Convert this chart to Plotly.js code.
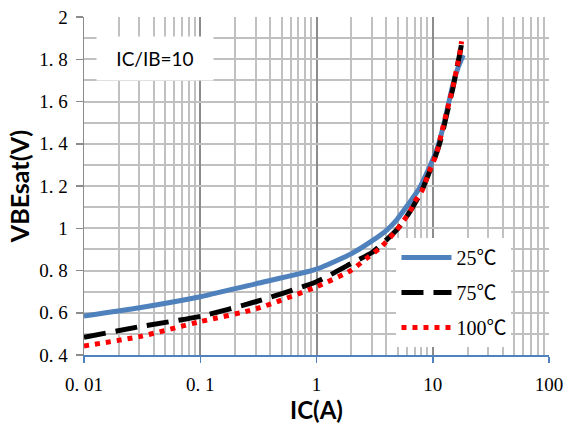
<!DOCTYPE html>
<html>
<head>
<meta charset="utf-8">
<script src="https://cdn.plot.ly/plotly-3.0.1.min.js"></script>
<style>html,body{margin:0;padding:0;background:#fff;}#chart{width:570px;height:427px;}</style>
</head>
<body>
<div id="chart"></div>
<script>
// ---- data ----
const seriesNames = ["25\u2103", "75\u2103", "100\u2103"];
const ic25  = [0.01, 0.03, 0.1, 0.3, 1, 2, 3, 4, 4.9, 6, 7.7, 10.8, 12.3, 15, 16.5, 18.3];
const vbe25 = [0.585, 0.624, 0.676, 0.737, 0.806, 0.88, 0.94, 0.99, 1.04, 1.105, 1.19, 1.37, 1.48, 1.686, 1.76, 1.82];
const ic75  = [0.01, 0.03, 0.1, 0.3, 1, 2, 3, 4, 5, 6.3, 8, 9.5, 11, 12, 13, 14, 15, 16, 17, 17.8];
const vbe75 = [0.484, 0.534, 0.583, 0.652, 0.747, 0.834, 0.885, 0.945, 0.998, 1.075, 1.175, 1.275, 1.37, 1.44, 1.525, 1.6, 1.67, 1.75, 1.82, 1.88];
const ic100  = [0.01, 0.03, 0.1, 0.3, 1, 2, 2.7, 3.5, 4.1, 4.87, 6.35, 7, 8, 9.45, 10.8, 11.9, 13.2, 14, 15, 16, 17, 17.7];
const vbe100 = [0.443, 0.487, 0.558, 0.618, 0.723, 0.802, 0.858, 0.905, 0.944, 0.99, 1.078, 1.126, 1.173, 1.276, 1.355, 1.45, 1.552, 1.607, 1.675, 1.75, 1.82, 1.885];
const xTickVals = [0.01, 0.1, 1, 10, 100];
const xTickText = ["0. 01", "0. 1", "1", "10", "100"];
const yTickVals = [0.4, 0.6, 0.8, 1.0, 1.2, 1.4, 1.6, 1.8, 2.0];
const yTickText = ["0. 4", "0. 6", "0. 8", "1", "1. 2", "1. 4", "1. 6", "1. 8", "2"];
const noteText = "IC/IB=10";

const serif = "'Liberation Serif', 'Noto Sans CJK JP', serif";
const sans = "Lato, 'Open Sans', sans-serif";

const traces = [
  {x: ic25, y: vbe25, name: seriesNames[0], legendgroup: "a", mode: "lines",
   line: {color: "#4F81BD", width: 5, shape: "spline", smoothing: 0.6}},
  {x: ic75, y: vbe75, name: seriesNames[1], legendgroup: "b", mode: "lines",
   line: {color: "#000000", width: 5, dash: "22px,10px", shape: "spline", smoothing: 0.6}},
  {x: ic100, y: vbe100, name: seriesNames[2], legendgroup: "c", mode: "lines",
   line: {color: "#FF0000", width: 5, dash: "5px,6px", shape: "spline", smoothing: 0.6}}
];

const layout = {
  width: 570, height: 427,
  margin: {l: 84, r: 21, t: 17, b: 72},
  paper_bgcolor: "#ffffff", plot_bgcolor: "#ffffff",
  showlegend: true,
  legend: {x: 0.672, y: 0.346, xanchor: "left", yanchor: "top",
           bgcolor: "#ffffff", borderwidth: 0,
           font: {family: serif, size: 20, color: "#000"},
           traceorder: "grouped", tracegroupgap: 6, itemwidth: 50},
  xaxis: {
    type: "log", range: [-2, 2],
    tickvals: xTickVals, ticktext: xTickText,
    tickfont: {family: serif, size: 19, color: "#000"},
    ticks: "outside", ticklen: 6, tickcolor: "#4F81BD", tickwidth: 1.5,
    ticklabelstandoff: 6,
    showline: true, linecolor: "#4F81BD", linewidth: 1.5,
    showgrid: true, gridcolor: "#8C8C8C", gridwidth: 2,
    minor: {dtick: "D1", showgrid: true, gridcolor: "#C0C0C0", gridwidth: 2, ticks: ""},
    zeroline: false,
    title: {text: "IC(A)", font: {family: sans, size: 24, color: "#000", weight: "bold"}, standoff: 6}
  },
  yaxis: {
    range: [0.4, 2],
    tickvals: yTickVals, ticktext: yTickText,
    tickfont: {family: serif, size: 19, color: "#000"},
    ticks: "outside", ticklen: 7, tickcolor: "#8C8C8C", tickwidth: 1.5,
    ticklabelstandoff: 4,
    showline: true, linecolor: "#8C8C8C", linewidth: 1.5,
    showgrid: true, gridcolor: "#C0C0C0", gridwidth: 2,
    minor: {dtick: 0.1, showgrid: true, gridcolor: "#C0C0C0", gridwidth: 2, ticks: ""},
    zeroline: false,
    title: {text: "VBEsat(V)", font: {family: sans, size: 25, color: "#000", weight: "bold"}, standoff: 2}
  },
  annotations: [
    {xref: "paper", yref: "paper", x: 0.152, y: 0.877, text: noteText, showarrow: false,
     font: {family: sans, size: 19, color: "#000"}, bgcolor: "#ffffff",
     width: 116, height: 43, borderpad: 0, xanchor: "center", yanchor: "middle"}
  ]
};

Plotly.newPlot("chart", traces, layout, {displayModeBar: false, staticPlot: true});
</script>
</body>
</html>
